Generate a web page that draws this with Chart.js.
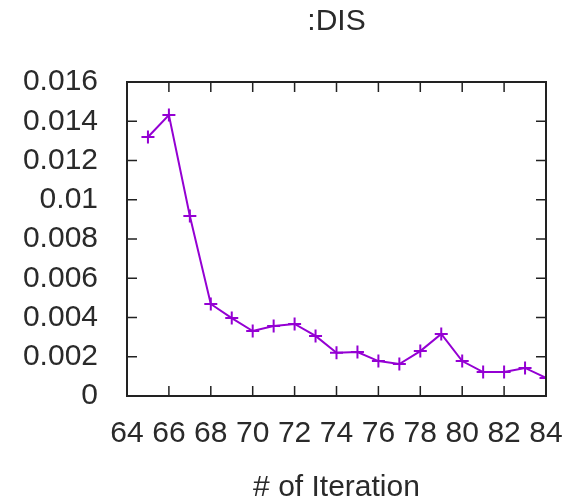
<!DOCTYPE html>
<html>
<head>
<meta charset="utf-8">
<script src="https://cdn.jsdelivr.net/npm/chart.js@4/dist/chart.umd.min.js"></script>
<style>
  html, body { margin: 0; padding: 0; background: #fff; }
  #wrap { width: 565px; height: 503px; }
</style>
</head>
<body>
<div id="wrap"><canvas id="disChart"></canvas></div>
<script>
// ===============================
// DATA
// ===============================
const iterations = [65, 66, 67, 68, 69, 70, 71, 72, 73, 74, 75, 76, 77, 78, 79, 80, 81, 82, 83, 84];
const disValues = [0.0132, 0.01432, 0.00917, 0.00469, 0.00397, 0.00331, 0.00357, 0.00367, 0.00306, 0.0022,
  0.00224, 0.00178, 0.00163, 0.00229, 0.00316, 0.00178, 0.00122, 0.00122, 0.00143, 0.00092];
const xTicks = [64, 66, 68, 70, 72, 74, 76, 78, 80, 82, 84];
const yTicks = [0, 0.002, 0.004, 0.006, 0.008, 0.01, 0.012, 0.014, 0.016];

const FONT = "'Liberation Sans', Arial, sans-serif";
const TEXT = "#2a2a2a";

// ticks pointing inward on all four sides (gnuplot look)
const innerTicks = {
  id: "innerTicks",
  afterDraw(chart) {
    const { ctx, chartArea: a, scales } = chart;
    const len = 10;
    ctx.save();
    ctx.strokeStyle = "#222";
    ctx.lineWidth = 1.5;
    ctx.beginPath();
    xTicks.forEach((v) => {
      const x = scales.x.getPixelForValue(v);
      ctx.moveTo(x, a.bottom);
      ctx.lineTo(x, a.bottom - len);
      ctx.moveTo(x, a.top);
      ctx.lineTo(x, a.top + len);
    });
    yTicks.forEach((v) => {
      const y = scales.y.getPixelForValue(v);
      ctx.moveTo(a.left, y);
      ctx.lineTo(a.left + len, y);
      ctx.moveTo(a.right, y);
      ctx.lineTo(a.right - len, y);
    });
    ctx.stroke();
    ctx.lineWidth = 2;
    ctx.strokeRect(a.left, a.top, a.right - a.left, a.bottom - a.top);
    ctx.restore();
  },
};

const points = iterations.map((it, i) => ({ x: it, y: disValues[i] }));

new Chart(document.getElementById("disChart"), {
  type: "line",
  data: {
    datasets: [
      {
        label: ":DIS",
        data: points,
        borderColor: "#9400d3",
        backgroundColor: "#9400d3",
        borderWidth: 2,
        pointStyle: "cross",
        pointRadius: 6.5,
        pointBorderWidth: 2,
        tension: 0,
      },
    ],
  },
  options: {
    responsive: true,
    maintainAspectRatio: false,
    animation: false,
    layout: { padding: { left: 0, right: 0, top: 0, bottom: 0 } },
    plugins: {
      legend: { display: false },
      tooltip: { enabled: false },
      title: {
        display: true,
        fullSize: false,
        text: ":DIS",
        color: TEXT,
        font: { family: FONT, size: 30, weight: "normal", lineHeight: 1.2 },
        padding: { top: 4, bottom: 42 },
      },
    },
    scales: {
      x: {
        type: "linear",
        min: 64,
        max: 84,
        afterBuildTicks: (s) => { s.ticks = xTicks.map((v) => ({ value: v })); },
        afterFit: (s) => {
          s.height = 107;
          s.paddingRight = 19;
        },
        grid: { display: false, drawTicks: false },
        border: { display: false },
        ticks: {
          autoSkip: false,
          maxRotation: 0,
          padding: 20,
          color: TEXT,
          font: { family: FONT, size: 30 },
        },
        title: {
          display: true,
          text: "# of Iteration",
          color: TEXT,
          font: { family: FONT, size: 30 },
          padding: { top: 0, bottom: -3 },
        },
      },
      y: {
        min: 0,
        max: 0.016,
        afterBuildTicks: (s) => { s.ticks = yTicks.map((v) => ({ value: v })); },
        afterFit: (s) => { s.width = 127; },
        grid: { display: false, drawTicks: false },
        border: { display: false },
        ticks: {
          padding: 29,
          color: TEXT,
          font: { family: FONT, size: 30 },
          callback: (v) => String(Number(v.toFixed(3))),
        },
      },
    },
  },
  plugins: [innerTicks],
});
</script>
</body>
</html>
